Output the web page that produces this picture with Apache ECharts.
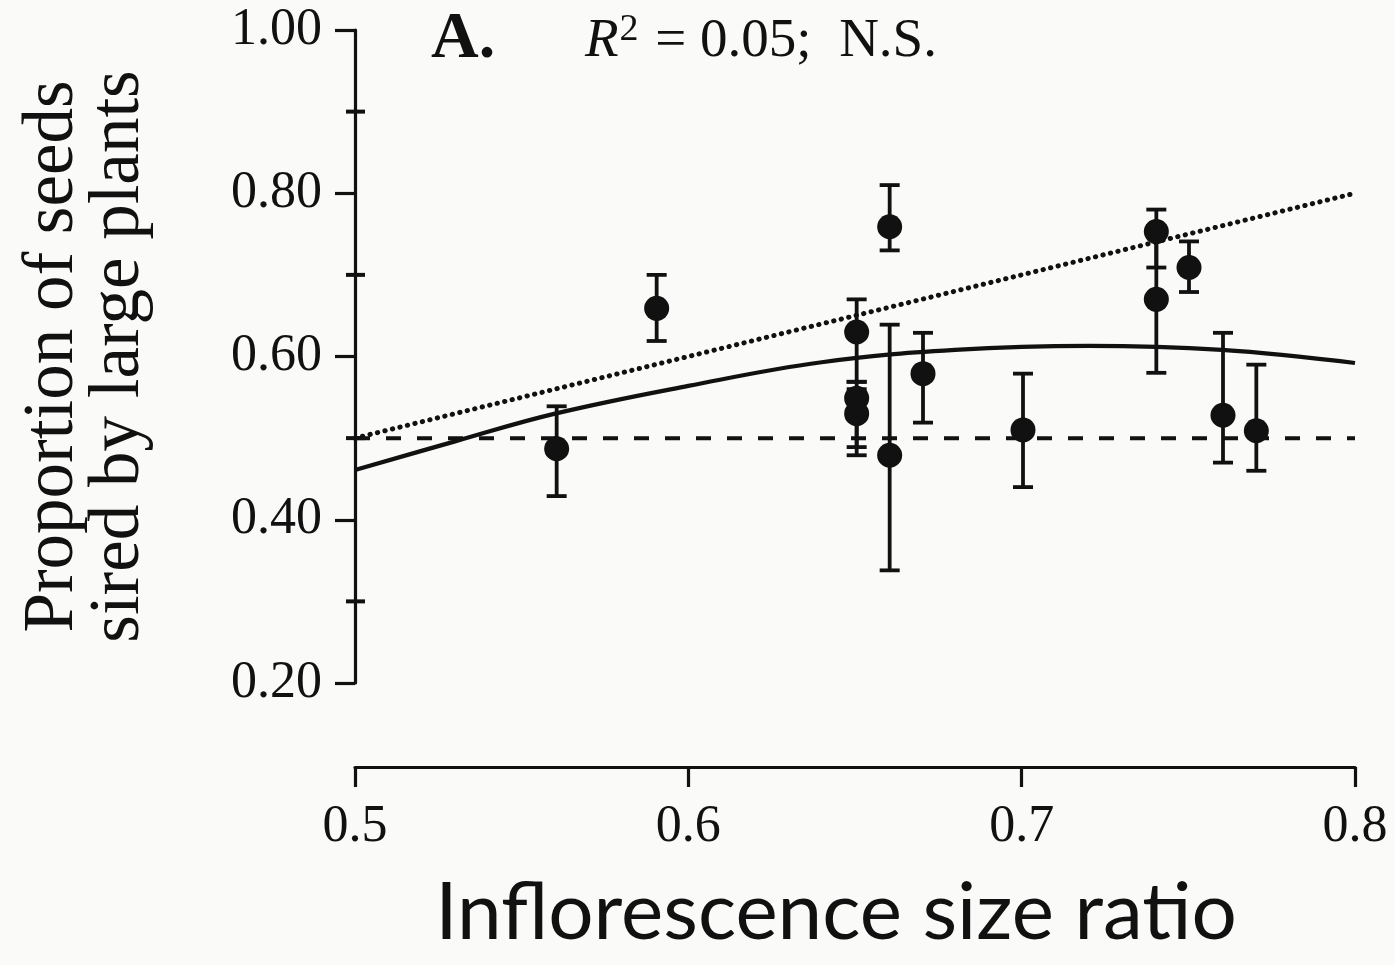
<!DOCTYPE html>
<html>
<head>
<meta charset="utf-8">
<script src="https://cdn.jsdelivr.net/npm/echarts@6/dist/echarts.min.js"></script>
<style>
  html, body { margin: 0; padding: 0; background: #fafaf9; }
  #chart { width: 1395px; height: 965px; }
</style>
</head>
<body>
<div id="chart"></div>
<script>
// ---- Data ----
const sizeRatio = [0.5605, 0.5905, 0.6505, 0.6505, 0.6505, 0.6604, 0.6604, 0.6704, 0.7004, 0.7404, 0.7404, 0.7502, 0.7604, 0.7704];
const propLarge = [0.487, 0.659, 0.630, 0.549, 0.530, 0.759, 0.479, 0.579, 0.510, 0.753, 0.670, 0.709, 0.528, 0.509];
const errLow    = [0.429, 0.619, 0.569, 0.489, 0.479, 0.730, 0.338, 0.519, 0.440, 0.709, 0.580, 0.679, 0.470, 0.460];
const errHigh   = [0.539, 0.700, 0.670, 0.569, 0.560, 0.810, 0.639, 0.629, 0.579, 0.780, 0.760, 0.741, 0.629, 0.590];

// equal siring success (null) and proportional expectation lines
const nullLineX = [0.5, 0.8];
const nullLineY = [0.5, 0.5];
const propLineX = [0.5, 0.8];
const propLineY = [0.5, 0.8];

// fitted curve
const fitX = [0.50, 0.53, 0.56, 0.60, 0.64, 0.68, 0.72, 0.76, 0.80];
const fitY = [0.461, 0.496, 0.530, 0.564, 0.593, 0.608, 0.613, 0.608, 0.592];

const xTicks = [0.5, 0.6, 0.7, 0.8];
const yTicks = [0.20, 0.40, 0.60, 0.80, 1.00];
const yMinorTicks = [0.30, 0.50, 0.70, 0.90];

const xTitle = 'Inflorescence size ratio';
const yTitle = 'Proportion of seeds\nsired by large plants';
const panelLabel = 'A.';

// ---- Build chart ----
const INK = '#111111';
const SERIF = '"Liberation Serif", "DejaVu Serif", serif';
const zip = (a, b) => a.map((v, i) => [v, b[i]]);

const chart = echarts.init(document.getElementById('chart'), null, { renderer: 'canvas' });

const option = {
  backgroundColor: '#fafaf9',
  animation: false,
  title: [
    {
      text: panelLabel,
      left: 426, top: 2,
      textStyle: { fontFamily: SERIF, fontWeight: 'bold', fontSize: 66, color: INK }
    },
    {
      text: '{i|R}{s|2}{t| = 0.05;  N.S.}',
      left: 580, top: 6,
      textStyle: {
        fontWeight: 'normal',
        rich: {
          i: { fontFamily: SERIF, fontStyle: 'italic', fontWeight: 'normal', fontSize: 55, color: INK, lineHeight: 62 },
          s: { fontFamily: SERIF, fontWeight: 'normal', fontSize: 38, color: INK, verticalAlign: 'top', lineHeight: 26, padding: [0, 3, 0, 1] },
          t: { fontFamily: SERIF, fontWeight: 'normal', fontSize: 55, color: INK, lineHeight: 62 }
        }
      }
    }
  ],
  grid: [
    { left: 355, right: 40, top: 30, bottom: 282 },
    { left: 355, right: 40, top: 600, bottom: 198 }
  ],
  xAxis: [
    { gridIndex: 0, type: 'value', min: 0.5, max: 0.8, interval: 0.1, show: false },
    {
      gridIndex: 1, type: 'value', min: 0.5, max: 0.8, interval: 0.1, position: 'bottom',
      axisLine: { show: true, lineStyle: { color: INK, width: 3.2 } },
      axisTick: { show: true, length: 20, lineStyle: { color: INK, width: 3.2 } },
      splitLine: { show: false },
      axisLabel: {
        margin: 34, fontFamily: SERIF, fontSize: 52, color: INK,
        formatter: v => xTicks.find(t => Math.abs(t - v) < 1e-6)?.toFixed(1) ?? ''
      },
      name: xTitle, nameLocation: 'middle', nameGap: 106,
      nameTextStyle: { fontFamily: 'Lato, "Open Sans", sans-serif', fontSize: 80, color: INK, padding: [0, 38, 0, 0] }
    }
  ],
  yAxis: [
    {
      gridIndex: 0, type: 'value', min: 0.2, max: 1.0, interval: 0.2, position: 'left',
      axisLine: { show: true, lineStyle: { color: INK, width: 3.2 } },
      axisTick: { show: true, length: 20, lineStyle: { color: INK, width: 3.2 } },
      minorTick: { show: false },
      splitLine: { show: false },
      axisLabel: {
        margin: 33, fontFamily: SERIF, fontSize: 52, color: INK,
        formatter: v => yTicks.find(t => Math.abs(t - v) < 1e-6)?.toFixed(2) ?? ''
      },
      name: yTitle, nameLocation: 'middle', nameRotate: 90, nameGap: 203,
      nameTextStyle: { fontFamily: SERIF, fontSize: 71, lineHeight: 66, color: INK, align: 'center' }
    },
    { gridIndex: 1, type: 'value', min: 0, max: 1, show: false }
  ],
  series: [
    {
      // minor ticks crossing the y axis line
      type: 'custom', xAxisIndex: 0, yAxisIndex: 0, z: 5, clip: false, silent: true,
      data: yMinorTicks.map(v => [0.5, v]),
      renderItem: (params, api) => {
        const p = api.coord([api.value(0), api.value(1)]);
        return {
          type: 'line',
          shape: { x1: p[0] - 9, y1: p[1], x2: p[0] + 10, y2: p[1] },
          style: { stroke: INK, lineWidth: 4 }
        };
      }
    },
    {
      type: 'line', xAxisIndex: 0, yAxisIndex: 0, data: zip(nullLineX, nullLineY),
      showSymbol: false, silent: true,
      lineStyle: { color: INK, width: 4, type: [15, 16] }, z: 2
    },
    {
      type: 'line', xAxisIndex: 0, yAxisIndex: 0, data: zip(propLineX, propLineY),
      showSymbol: false, silent: true,
      lineStyle: { color: INK, width: 5, type: [0.3, 7.4], cap: 'round' }, z: 2
    },
    {
      type: 'line', xAxisIndex: 0, yAxisIndex: 0, data: zip(fitX, fitY),
      showSymbol: false, silent: true, smooth: 0.4,
      lineStyle: { color: INK, width: 4.2 }, z: 2
    },
    {
      type: 'custom', xAxisIndex: 0, yAxisIndex: 0, z: 3,
      data: sizeRatio.map((x, i) => [x, errLow[i], errHigh[i]]),
      renderItem: (params, api) => {
        const x = api.value(0);
        const lo = api.coord([x, api.value(1)]);
        const hi = api.coord([x, api.value(2)]);
        const hw = 10;
        const st = { stroke: INK, lineWidth: 3.8 };
        return {
          type: 'group',
          children: [
            { type: 'line', shape: { x1: lo[0], y1: lo[1], x2: hi[0], y2: hi[1] }, style: st },
            { type: 'line', shape: { x1: lo[0] - hw, y1: lo[1], x2: lo[0] + hw, y2: lo[1] }, style: st },
            { type: 'line', shape: { x1: hi[0] - hw, y1: hi[1], x2: hi[0] + hw, y2: hi[1] }, style: st }
          ]
        };
      }
    },
    {
      type: 'scatter', xAxisIndex: 0, yAxisIndex: 0, z: 4,
      data: zip(sizeRatio, propLarge),
      symbol: 'circle', symbolSize: 25,
      itemStyle: { color: INK, opacity: 1 }
    }
  ]
};

chart.setOption(option);
</script>
</body>
</html>
